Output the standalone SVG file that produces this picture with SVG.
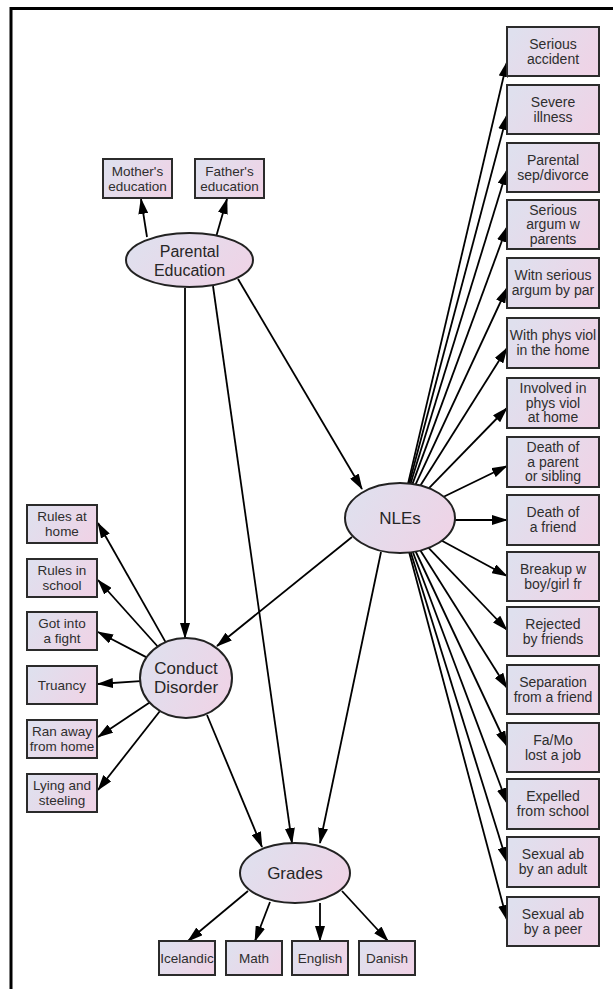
<svg xmlns="http://www.w3.org/2000/svg" width="613" height="989" viewBox="0 0 613 989">
<style>
.frame{stroke:#000;stroke-width:3;fill:none}
.box{fill:url(#g);stroke:#2b2b2b;stroke-width:2}
.ell{fill:url(#g);stroke:#222;stroke-width:2}
.t{font-family:"Liberation Sans",Arial,sans-serif;font-size:14px;fill:#2e2e2e;text-anchor:middle}
.ts{font-family:"Liberation Sans",Arial,sans-serif;font-size:13.5px;fill:#2e2e2e;text-anchor:middle}
.tl{font-family:"Liberation Sans",Arial,sans-serif;font-size:17px;fill:#262626;text-anchor:middle}
.c line{stroke:#000;stroke-width:1.8;marker-end:url(#ah)}
</style>
<defs>
<linearGradient id="g" x1="0" y1="0.3" x2="1" y2="0.7">
<stop offset="0" stop-color="#dfe0ee"/>
<stop offset="1" stop-color="#efd3e6"/>
</linearGradient>
<marker id="ah" markerUnits="userSpaceOnUse" markerWidth="16" markerHeight="10" refX="15" refY="5" orient="auto">
<path d="M0,0 L16,5 L0,10 z" fill="#000"/>
</marker>
</defs>
<rect width="613" height="989" fill="#fff"/>
<path class="frame" d="M11,989 V8.5 H613"/>
<g id="connectors" class="c">
<line x1="147" y1="237" x2="141" y2="199"/>
<line x1="216" y1="237" x2="227" y2="199"/>
<line x1="185" y1="288" x2="185" y2="638"/>
<line x1="213" y1="286" x2="292" y2="843"/>
<line x1="238" y1="279" x2="362" y2="489"/>
<line x1="352" y1="537" x2="217" y2="646"/>
<line x1="381" y1="552" x2="320" y2="843"/>
<line x1="207" y1="715" x2="262" y2="847"/>
<line x1="165.6" y1="642.1" x2="98" y2="523"/>
<line x1="157.7" y1="646.5" x2="98" y2="580"/>
<line x1="146.6" y1="657.4" x2="98" y2="632"/>
<line x1="140.2" y1="681.1" x2="98" y2="684"/>
<line x1="149.6" y1="702.4" x2="98" y2="737"/>
<line x1="160" y1="711" x2="98" y2="790"/>
<line x1="248" y1="891" x2="188" y2="941"/>
<line x1="270" y1="902" x2="255" y2="941"/>
<line x1="320" y1="903" x2="320" y2="941"/>
<line x1="342" y1="891" x2="388" y2="941"/>
<line x1="408.1" y1="483.4" x2="507" y2="62"/>
<line x1="409.2" y1="483.5" x2="507" y2="115"/>
<line x1="410.6" y1="483.6" x2="507" y2="170"/>
<line x1="412.5" y1="483.9" x2="507" y2="227"/>
<line x1="415.6" y1="484.4" x2="507" y2="288"/>
<line x1="420.4" y1="485.5" x2="507" y2="348"/>
<line x1="429" y1="488.2" x2="507" y2="408"/>
<line x1="443.7" y1="496.8" x2="507" y2="466"/>
<line x1="455" y1="520" x2="507" y2="520"/>
<line x1="441.9" y1="540.7" x2="507" y2="576"/>
<line x1="428.6" y1="547.9" x2="507" y2="630"/>
<line x1="420.4" y1="550.5" x2="507" y2="688"/>
<line x1="415.7" y1="551.5" x2="507" y2="746"/>
<line x1="412.8" y1="552" x2="507" y2="803"/>
<line x1="410.7" y1="552.3" x2="507" y2="862"/>
<line x1="409.2" y1="552.5" x2="507" y2="920"/>
</g>
<g id="parental-education"><ellipse class="ell" cx="189.5" cy="260" rx="63.5" ry="27"/><text class="tl" x="189.5" y="257" style="font-size:16px">Parental</text><text class="tl" x="189.5" y="276" style="font-size:16px">Education</text></g>
<g id="mothers-education"><rect class="box" x="103" y="159" width="69" height="39"/><text class="ts" x="137.5" y="175.5">Mother's</text><text class="ts" x="137.5" y="190.5">education</text></g>
<g id="fathers-education"><rect class="box" x="195" y="159" width="69" height="39"/><text class="ts" x="229.5" y="175.5">Father's</text><text class="ts" x="229.5" y="190.5">education</text></g>
<g id="nles"><ellipse class="ell" cx="400" cy="518" rx="55" ry="35"/><text class="tl" x="400" y="524">NLEs</text></g>
<g id="conduct-disorder"><ellipse class="ell" cx="186" cy="678" rx="46" ry="40"/><text class="tl" x="186" y="674">Conduct</text><text class="tl" x="186" y="693">Disorder</text></g>
<g id="grades"><ellipse class="ell" cx="295" cy="873" rx="55" ry="30"/><text class="tl" x="295" y="879">Grades</text></g>
<g id="rules-at-home"><rect class="box" x="27" y="505" width="70" height="38"/><text class="ts" x="62" y="521">Rules at</text><text class="ts" x="62" y="536">home</text></g>
<g id="rules-in-school"><rect class="box" x="27" y="559" width="70" height="38"/><text class="ts" x="62" y="575">Rules in</text><text class="ts" x="62" y="590">school</text></g>
<g id="got-into-a-fight"><rect class="box" x="27" y="612" width="70" height="38"/><text class="ts" x="62" y="628">Got into</text><text class="ts" x="62" y="643">a fight</text></g>
<g id="truancy"><rect class="box" x="27" y="666" width="70" height="38"/><text class="ts" x="62" y="690">Truancy</text></g>
<g id="ran-away"><rect class="box" x="27" y="720" width="70" height="38"/><text class="ts" x="62" y="736">Ran away</text><text class="ts" x="62" y="751">from home</text></g>
<g id="lying"><rect class="box" x="27" y="774" width="70" height="38"/><text class="ts" x="62" y="790">Lying and</text><text class="ts" x="62" y="805">steeling</text></g>
<g id="icelandic"><rect class="box" x="159" y="941" width="56" height="34"/><text class="ts" x="187" y="963">Icelandic</text></g>
<g id="math"><rect class="box" x="226" y="941" width="56" height="34"/><text class="ts" x="254" y="963">Math</text></g>
<g id="english"><rect class="box" x="292" y="941" width="56" height="34"/><text class="ts" x="320" y="963">English</text></g>
<g id="danish"><rect class="box" x="359" y="941" width="56" height="34"/><text class="ts" x="387" y="963">Danish</text></g>
<g id="serious-accident"><rect class="box" x="507" y="27" width="92" height="49"/><text class="t" x="553" y="49">Serious</text><text class="t" x="553" y="64">accident</text></g>
<g id="severe-illness"><rect class="box" x="507" y="85" width="92" height="49"/><text class="t" x="553" y="107">Severe</text><text class="t" x="553" y="122">illness</text></g>
<g id="parental-sep"><rect class="box" x="507" y="143" width="92" height="49"/><text class="t" x="553" y="165">Parental</text><text class="t" x="553" y="180">sep/divorce</text></g>
<g id="serious-argum"><rect class="box" x="507" y="200" width="92" height="49"/><text class="t" x="553" y="214.5">Serious</text><text class="t" x="553" y="229">argum w</text><text class="t" x="553" y="243.5">parents</text></g>
<g id="witn-serious"><rect class="box" x="507" y="258" width="92" height="50"/><text class="t" x="553" y="280">Witn serious</text><text class="t" x="553" y="295">argum by par</text></g>
<g id="with-phys-viol"><rect class="box" x="507" y="318" width="92" height="50"/><text class="t" x="553" y="340">With phys viol</text><text class="t" x="553" y="355">in the home</text></g>
<g id="involved"><rect class="box" x="507" y="378" width="92" height="50"/><text class="t" x="553" y="393">Involved in</text><text class="t" x="553" y="407.5">phys viol</text><text class="t" x="553" y="422">at home</text></g>
<g id="death-parent"><rect class="box" x="507" y="437" width="92" height="50"/><text class="t" x="553" y="452">Death of</text><text class="t" x="553" y="466.5">a parent</text><text class="t" x="553" y="481">or sibling</text></g>
<g id="death-friend"><rect class="box" x="507" y="495" width="92" height="50"/><text class="t" x="553" y="517">Death of</text><text class="t" x="553" y="532">a friend</text></g>
<g id="breakup"><rect class="box" x="507" y="552" width="92" height="49"/><text class="t" x="553" y="574">Breakup w</text><text class="t" x="553" y="589">boy/girl fr</text></g>
<g id="rejected"><rect class="box" x="507" y="607" width="92" height="49"/><text class="t" x="553" y="629">Rejected</text><text class="t" x="553" y="644">by friends</text></g>
<g id="separation"><rect class="box" x="507" y="665" width="92" height="49"/><text class="t" x="553" y="687">Separation</text><text class="t" x="553" y="702">from a friend</text></g>
<g id="lost-job"><rect class="box" x="507" y="723" width="92" height="49"/><text class="t" x="553" y="745">Fa/Mo</text><text class="t" x="553" y="760">lost a job</text></g>
<g id="expelled"><rect class="box" x="507" y="779" width="92" height="50"/><text class="t" x="553" y="801">Expelled</text><text class="t" x="553" y="816">from school</text></g>
<g id="sexual-adult"><rect class="box" x="507" y="837" width="92" height="50"/><text class="t" x="553" y="859">Sexual ab</text><text class="t" x="553" y="874">by an adult</text></g>
<g id="sexual-peer"><rect class="box" x="507" y="897" width="92" height="49"/><text class="t" x="553" y="919">Sexual ab</text><text class="t" x="553" y="934">by a peer</text></g>
</svg>
